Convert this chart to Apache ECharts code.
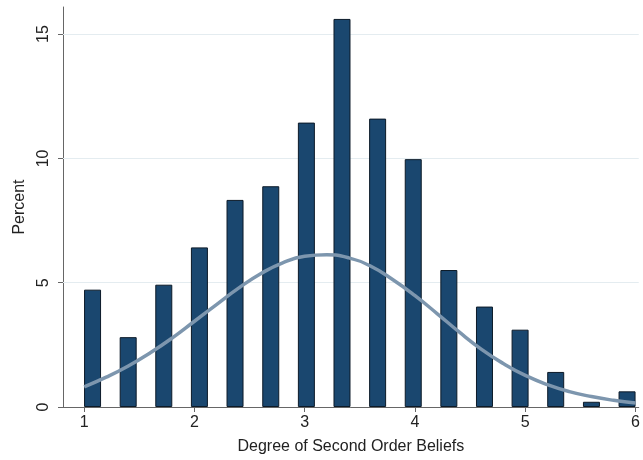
<!DOCTYPE html>
<html>
<head>
<meta charset="utf-8">
<script src="https://cdn.jsdelivr.net/npm/echarts@6/dist/echarts.min.js"></script>
<style>
  html, body { margin: 0; padding: 0; background: #ffffff; }
  #chart { width: 643px; height: 460px; }
</style>
</head>
<body>
<div id="chart"></div>
<script>
// Histogram bins: centre of each bar on the belief scale and its share in percent
const binCenters = [1.076, 1.399, 1.722, 2.045, 2.368, 2.692, 3.015, 3.338,
                    3.661, 3.984, 4.307, 4.630, 4.953, 5.276, 5.600, 5.923];
const percents   = [4.72, 2.81, 4.92, 6.42, 8.33, 8.88, 11.44, 15.61,
                    11.60, 9.97, 5.51, 4.04, 3.11, 1.41, 0.21, 0.63];

// Fitted normal density, expressed in percent
const curveX = [1.0, 1.2, 1.4, 1.6, 1.8, 2.0, 2.2, 2.4, 2.6, 2.8, 3.0, 3.2, 3.4,
                3.6, 3.8, 4.0, 4.2, 4.4, 4.6, 4.8, 5.0, 5.2, 5.4, 5.6, 5.8, 6.0];
const curveY = [0.81, 1.20, 1.65, 2.18, 2.78, 3.45, 4.12, 4.78, 5.36, 5.80, 6.06, 6.12, 6.00,
                5.66, 5.12, 4.48, 3.76, 3.02, 2.33, 1.75, 1.27, 0.90, 0.62, 0.42, 0.27, 0.16];

// Axis ticks
const xTicks = [1, 2, 3, 4, 5, 6];
const yTicks = [0, 5, 10, 15];
const gridLines = [5, 10, 15];

const chart = echarts.init(document.getElementById('chart'), null, { renderer: 'canvas' });

const font = 'Liberation Sans, Arial, Helvetica, sans-serif';
const axisGray = '#666666';

chart.setOption({
  animation: false,
  backgroundColor: '#ffffff',
  grid: { left: 63, right: 0, top: 7, bottom: 51.5, containLabel: false },
  xAxis: {
    type: 'value',
    min: 0.808,
    max: 6.029,
    name: 'Degree of Second Order Beliefs',
    nameLocation: 'middle',
    nameGap: 32,
    nameTextStyle: { fontFamily: font, fontSize: 16, color: '#222222' },
    axisLine: { show: true, onZero: false, lineStyle: { color: axisGray, width: 1 } },
    axisTick: { show: true, length: 5, customValues: xTicks, lineStyle: { color: axisGray } },
    axisLabel: { customValues: xTicks, margin: 8, fontFamily: font, fontSize: 16, color: '#222222' },
    splitLine: { show: false }
  },
  yAxis: {
    type: 'value',
    min: 0,
    max: 16.09,
    name: 'Percent',
    nameLocation: 'middle',
    nameGap: 35,
    nameTextStyle: { fontFamily: font, fontSize: 16, color: '#222222' },
    axisLine: { show: true, lineStyle: { color: axisGray, width: 1 } },
    axisTick: { show: true, length: 5, customValues: yTicks, lineStyle: { color: axisGray } },
    axisLabel: { customValues: yTicks, rotate: 90, margin: 11, fontFamily: font, fontSize: 16, color: '#222222' },
    splitLine: { show: false }
  },
  series: [
    {
      // faint horizontal reference lines behind the bars
      type: 'line',
      data: [],
      z: 1,
      silent: true,
      markLine: {
        silent: true,
        z: 1,
        symbol: ['none', 'none'],
        label: { show: false },
        lineStyle: { color: '#e4ecf0', width: 1, type: 'solid' },
        data: gridLines.map(v => ({ yAxis: v }))
      }
    },
    {
      type: 'bar',
      z: 2,
      barWidth: 17,
      data: binCenters.map((x, i) => [x, percents[i]]),
      itemStyle: { color: '#1a476f', borderColor: '#0c1a28', borderWidth: 1 }
    },
    {
      type: 'line',
      z: 3,
      smooth: true,
      showSymbol: false,
      data: curveX.map((x, i) => [x, curveY[i]]),
      lineStyle: { color: '#7d96ae', width: 3.5 }
    }
  ]
});
</script>
</body>
</html>
